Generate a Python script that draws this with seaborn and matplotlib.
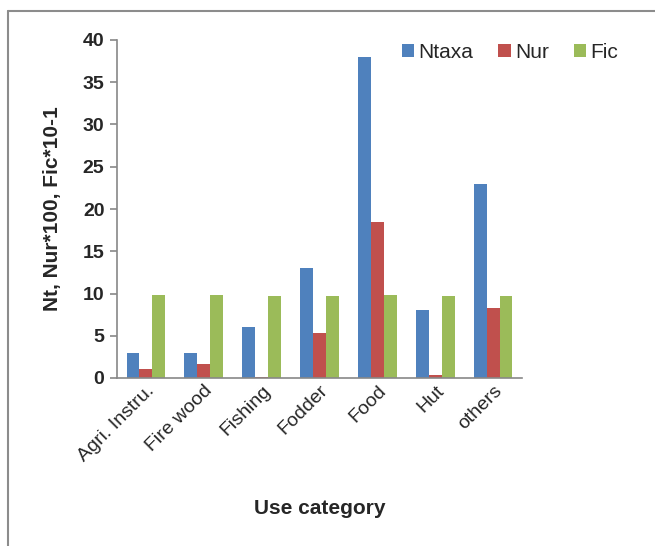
import matplotlib
matplotlib.use("Agg")
import matplotlib.pyplot as plt
from matplotlib.lines import Line2D
from matplotlib.patches import Patch
import seaborn as sns
import pandas as pd

categories = ["Agri. Instru.", "Fire wood", "Fishing", "Fodder", "Food", "Hut", "others"]
ntaxa = [3, 3, 6, 13, 38, 8, 23]
nur = [1.1, 1.7, 0.15, 5.3, 18.5, 0.4, 8.3]
fic = [9.85, 9.85, 9.7, 9.7, 9.85, 9.7, 9.7]
series_names = ["Ntaxa", "Nur", "Fic"]
colors = ["#4F81BD", "#C0504D", "#9BBB59"]
y_ticks = [0, 5, 10, 15, 20, 25, 30, 35, 40]

rows = []
for name, vals in zip(series_names, [ntaxa, nur, fic]):
    for cat, v in zip(categories, vals):
        rows.append({"Use category": cat, "series": name, "value": v})
df = pd.DataFrame(rows)

sns.set_style("white")
plt.rcParams["font.family"] = ["Liberation Sans", "DejaVu Sans"]

fig = plt.figure(figsize=(6.55, 5.46), dpi=100)
ax = fig.add_axes([117 / 655, 1 - 378 / 546, (522 - 117) / 655, (378 - 40) / 546])

sns.barplot(data=df, x="Use category", y="value", hue="series",
            hue_order=series_names, palette=colors, width=0.67,
            saturation=1, edgecolor="none", legend=False, ax=ax)

ax.set_ylim(0, 40)
ax.set_yticks(y_ticks)
ax.set_yticklabels([str(t) for t in y_ticks], fontsize=14, fontweight="bold")
ax.set_xlim(-0.5, len(categories) - 0.5)
ax.set_xticks(range(len(categories)))
ax.set_xticklabels(categories, rotation=45, ha="right", rotation_mode="anchor", fontsize=14)

for s in ["top", "right"]:
    ax.spines[s].set_visible(False)
for s in ["left", "bottom"]:
    ax.spines[s].set_color("#888888")
    ax.spines[s].set_linewidth(1.2)
ax.tick_params(axis="y", which="major", left=True, length=5, width=1.2, color="#888888", pad=4)
ax.tick_params(axis="x", length=0, pad=3)

ax.set_ylabel("Nt, Nur*100, Fic*10-1", fontsize=15, fontweight="bold")
ax.yaxis.set_label_coords(-0.136, 0.5)
ax.set_xlabel("")
fig.text(320 / 655, 1 - 508 / 546, "Use category", fontsize=15, fontweight="bold",
         ha="center", va="center")

handles = [Patch(facecolor=c, edgecolor="none") for c in colors]
fig.legend(handles, series_names, loc="center", bbox_to_anchor=(510 / 655, 1 - 52 / 546),
           ncol=3, frameon=False, fontsize=15, handlelength=0.6, handleheight=0.6,
           handletextpad=0.2, columnspacing=1.2)

# outer chart frame (left and top edges)
fx = 7.5 / 655
fy = 1 - 10.5 / 546
fig.add_artist(Line2D([fx, fx], [0, fy], transform=fig.transFigure, color="#8c8c8c", lw=1.5))
fig.add_artist(Line2D([fx, 1], [fy, fy], transform=fig.transFigure, color="#8c8c8c", lw=1.5))

fig.savefig("out.png", dpi=100)
